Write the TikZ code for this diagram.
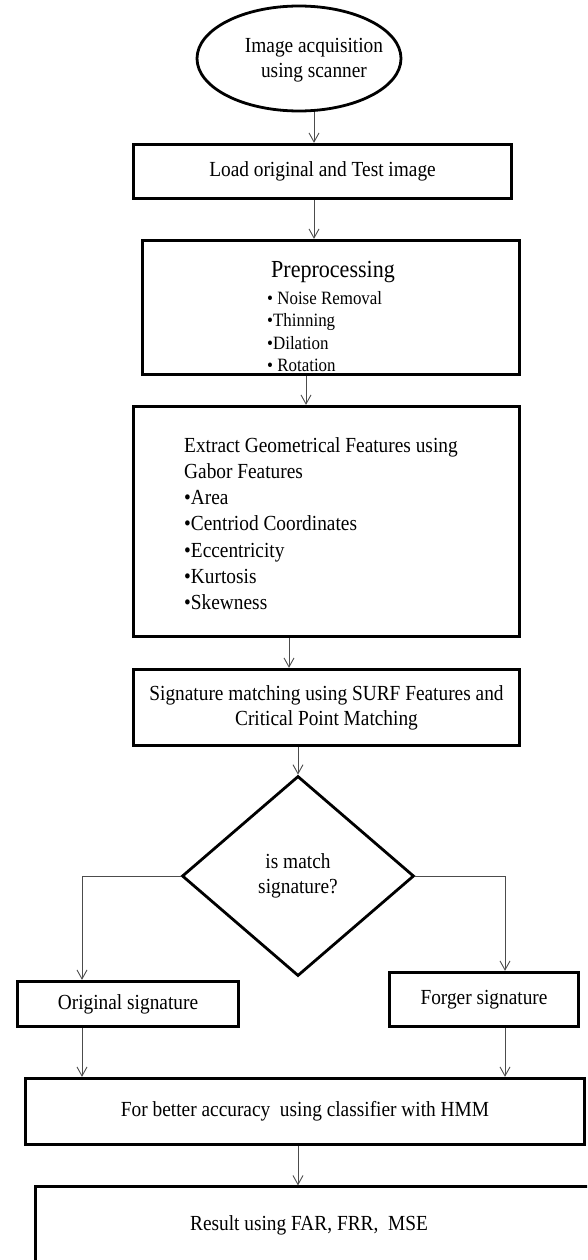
\documentclass[tikz,border=0pt]{standalone}
\usepackage{fontspec}
\setmainfont[FakeStretch=0.9]{Liberation Serif}
\usepackage{tikz}
\usetikzlibrary{arrows.meta,shapes.geometric}

\begin{document}
\begin{tikzpicture}[x=1pt, y=-1pt,
    every node/.style={font=\fontsize{21.5}{25}\selectfont},
    caja/.style={draw, line width=2.8pt, rectangle, inner sep=0pt},
    flecha/.style={-{Straight Barb[length=9pt,width=10pt]}, draw=black!70, line width=0.9pt}]
    % Marco de la figura
    \clip (0,0) rectangle (587,1260);

    % Elipse de inicio
    \node[draw, ellipse, line width=2.8pt, minimum width=204, minimum height=105] (acq) at (299,58.5) {};
    \node[align=center] (acqtxt) at (314,60.5) {Image acquisition\\using scanner};

    % Cajas del proceso
    \node[caja, minimum width=378.5, minimum height=54.5] (load) at (322.5,171.5) {Load original and Test image};
    \node[caja, minimum width=377.5, minimum height=134.5] (pre) at (331,307.5) {};
    \node[font=\fontsize{24.5}{28}\selectfont] (pretit) at (333,272) {Preprocessing};
    \node[anchor=west, align=left, inner sep=0pt, font=\fontsize{18.8}{22.3}\selectfont] (prelist) at (267,331.5)
        {• Noise Removal\\•Thinning\\•Dilation\\• Rotation};
    \node[caja, minimum width=386.5, minimum height=230.5] (ext) at (326.5,521.5) {};
    \node[anchor=west, align=left, inner sep=0pt, font=\fontsize{21.5}{26.2}\selectfont] (extlist) at (184,523.5)
        {Extract Geometrical Features using\\Gabor Features\\•Area\\•Centriod Coordinates\\•Eccentricity\\•Kurtosis\\•Skewness};
    \node[caja, minimum width=386.5, minimum height=76.5, align=center] (sig) at (326.5,707.5)
        {Signature matching using SURF Features and\\Critical Point Matching};

    % Decision
    \node[draw, diamond, line width=2.8pt, minimum width=232, minimum height=200, inner sep=0pt, align=center] (dec) at (298,876)
        {is match\\signature?};
    \node[caja, minimum width=221.5, minimum height=45.5] (orig) at (128,1004) {Original signature};
    \node[caja, minimum width=189.5, minimum height=54.5] (forg) at (484,999.5) {Forger signature};

    % Clasificador y resultado
    \node[caja, minimum width=559.5, minimum height=66.5] (hmm) at (305,1111.5) {For better accuracy\ \ using classifier with HMM};
    \node[caja, anchor=north west, minimum width=600, minimum height=120] (res) at (34.4,1185.4) {};
    \node (restxt) at (309,1225) {Result using FAR, FRR,\ \ MSE};

    % Posiciones de las flechas
    \coordinate (c1) at (314,0);
    \coordinate (c2) at (306,0);
    \coordinate (c3) at (289,0);
    \coordinate (c4) at (298,0);
    \coordinate (izq) at (82,0);
    \coordinate (der) at (505,0);

    % Flechas
    \draw[flecha] (acq.south -| c1) -- (load.north -| c1);
    \draw[flecha] (load.south -| c1) -- (pre.north -| c1);
    \draw[flecha] (pre.south -| c2) -- (ext.north -| c2);
    \draw[flecha] (ext.south -| c3) -- (sig.north -| c3);
    \draw[flecha] (sig.south -| c4) -- (dec.north);
    \draw[flecha] (dec.west) -| (orig.north -| izq);
    \draw[flecha] (dec.east) -| (forg.north -| der);
    \draw[flecha] (orig.south -| izq) -- (hmm.north -| izq);
    \draw[flecha] (forg.south -| der) -- (hmm.north -| der);
    \draw[flecha] (hmm.south -| c4) -- (res.north -| c4);
\end{tikzpicture}
\end{document}
